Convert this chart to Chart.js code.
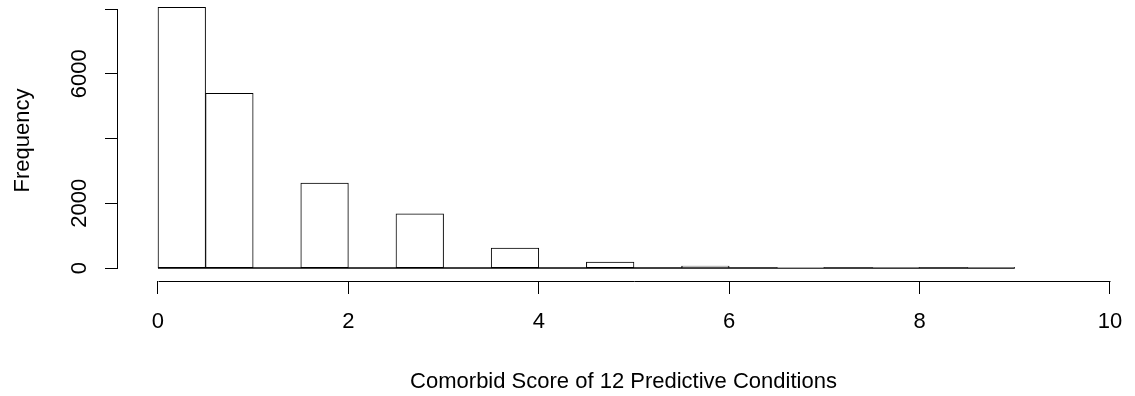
<!DOCTYPE html>
<html>
<head>
<meta charset="utf-8">
<script src="https://cdn.jsdelivr.net/npm/chart.js@4/dist/chart.umd.min.js"></script>
<style>
  html, body { margin: 0; padding: 0; background: #ffffff; }
  #wrap { width: 1135px; height: 396px; }
</style>
</head>
<body>
<div id="wrap"><canvas id="c" width="1135" height="396"></canvas></div>
<script>
// Histogram bins (left edges) and counts
const binStarts = [0, 0.5, 1, 1.5, 2, 2.5, 3, 3.5, 4, 4.5, 5, 5.5, 6, 6.5, 7, 7.5, 8, 8.5];
const binWidth = 0.5;
const counts = [8050, 5400, 0, 2625, 0, 1677, 0, 618, 0, 185, 0, 60, 0, 12, 0, 4, 0, 1];

const xTicks = [0, 2, 4, 6, 8, 10];
const xTickLabels = ['0', '2', '4', '6', '8', '10'];
const yTicks = [0, 2000, 4000, 6000, 8000];
const yTickLabels = ['0', '2000', '', '6000', ''];

const xTitle = 'Comorbid Score of 12 Predictive Conditions';
const yTitle = 'Frequency';

const barData = binStarts.map((s, i) => ({ x: s + binWidth / 2, y: counts[i] }));
const baseData = [
  { x: binStarts[0], y: 0 },
  { x: binStarts[binStarts.length - 1] + binWidth, y: 0 }
];

Chart.defaults.font.family = "'Liberation Sans', Arial, sans-serif";
Chart.defaults.font.size = 22;
Chart.defaults.color = '#000000';

const axisLines = {
  id: 'axisLines',
  afterDraw(chart) {
    const ctx = chart.ctx;
    const xs = chart.scales.x, ys = chart.scales.y;
    ctx.save();
    ctx.strokeStyle = '#000000';
    ctx.lineWidth = 1;
    ctx.beginPath();
    const yb = Math.round(xs.top) + 0.5;
    ctx.moveTo(Math.round(xs.getPixelForValue(xTicks[0])) + 0.5, yb);
    ctx.lineTo(Math.round(xs.getPixelForValue(xTicks[xTicks.length - 1])) + 0.5, yb);
    const xl = Math.round(ys.right) - 0.5;
    ctx.moveTo(xl, Math.round(ys.getPixelForValue(yTicks[0])) + 0.5);
    ctx.lineTo(xl, Math.round(ys.getPixelForValue(yTicks[yTicks.length - 1])) + 0.5);
    ctx.stroke();
    ctx.restore();
  }
};

new Chart(document.getElementById('c'), {
  type: 'bar',
  data: {
    datasets: [
      {
        type: 'line',
        data: baseData,
        borderColor: '#000000',
        borderWidth: 1.6,
        pointRadius: 0,
        order: 2
      },
      {
        type: 'bar',
        data: barData,
        backgroundColor: '#ffffff',
        borderColor: '#000000',
        borderWidth: 1,
        borderSkipped: false,
        barPercentage: 1,
        categoryPercentage: 1,
        order: 1
      }
    ]
  },
  options: {
    responsive: false,
    animation: false,
    events: [],
    layout: { padding: { left: 0, right: 6, top: 0, bottom: 0 } },
    plugins: { legend: { display: false }, tooltip: { enabled: false } },
    scales: {
      x: {
        type: 'linear',
        offset: false,
        min: -0.42,
        max: 10.2,
        afterBuildTicks(s) { s.ticks = xTicks.map(v => ({ value: v })); },
        afterFit(s) { s.height = 115; s.paddingLeft = 0; s.paddingRight = 0; s.paddingTop = 0; s.paddingBottom = 0; },
        border: { display: false },
        grid: { offset: false, drawOnChartArea: false, drawTicks: true, tickLength: 13, color: '#000000', lineWidth: 1 },
        ticks: {
          autoSkip: false,
          maxRotation: 0,
          padding: 15,
          callback(v, i) { return xTickLabels[i]; }
        },
        title: { display: true, text: xTitle, padding: { top: 0, bottom: 1 } }
      },
      y: {
        type: 'linear',
        offset: false,
        min: -400,
        max: 8280,
        afterBuildTicks(s) { s.ticks = yTicks.map(v => ({ value: v })); },
        afterFit(s) { s.width = 118; s.paddingTop = 0; s.paddingBottom = 0; s.paddingLeft = 0; s.paddingRight = 0; },
        border: { display: false },
        grid: { offset: false, drawOnChartArea: false, drawTicks: true, tickLength: 13, color: '#000000', lineWidth: 1 },
        ticks: {
          autoSkip: false,
          minRotation: 90,
          maxRotation: 90,
          crossAlign: 'center',
          padding: 1,
          callback(v, i) { return yTickLabels[i]; }
        },
        title: { display: true, text: yTitle, padding: { top: 10, bottom: 0 } }
      }
    }
  },
  plugins: [axisLines]
});
</script>
</body>
</html>
